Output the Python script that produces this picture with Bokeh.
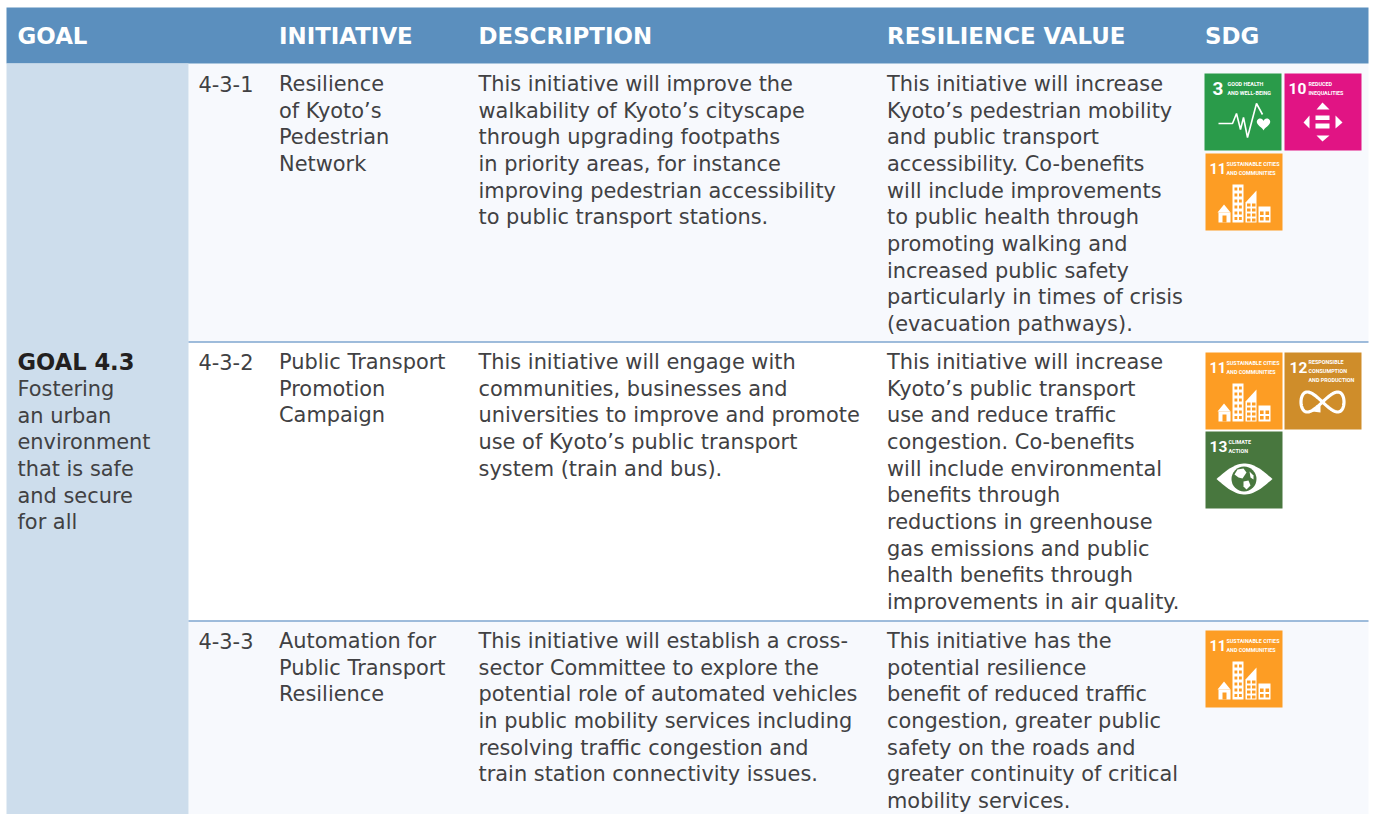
from bokeh.plotting import figure
from bokeh.models import Range1d, ColumnDataSource
from bokeh.core.properties import value
from bokeh.embed import file_html
from bokeh.resources import INLINE
import numpy as np

# ---------- content ----------
headers = ["GOAL", "INITIATIVE", "DESCRIPTION", "RESILIENCE VALUE", "SDG"]
goal_title = "GOAL 4.3"
goal_lines = ["Fostering", "an urban", "environment", "that is safe", "and secure", "for all"]
ids = ["4-3-1", "4-3-2", "4-3-3"]
initiatives = [
    ["Resilience", "of Kyoto\u2019s", "Pedestrian", "Network"],
    ["Public Transport", "Promotion", "Campaign"],
    ["Automation for", "Public Transport", "Resilience"],
]
descriptions = [
    ["This initiative will improve the", "walkability of Kyoto\u2019s cityscape", "through upgrading footpaths",
     "in priority areas, for instance", "improving pedestrian accessibility", "to public transport stations."],
    ["This initiative will engage with", "communities, businesses and", "universities to improve and promote",
     "use of Kyoto\u2019s public transport", "system (train and bus)."],
    ["This initiative will establish a cross-", "sector Committee to explore the", "potential role of automated vehicles",
     "in public mobility services including", "resolving traffic congestion and", "train station connectivity issues."],
]
resilience = [
    ["This initiative will increase", "Kyoto\u2019s pedestrian mobility", "and public transport", "accessibility. Co-benefits",
     "will include improvements", "to public health through", "promoting walking and", "increased public safety",
     "particularly in times of crisis", "(evacuation pathways)."],
    ["This initiative will increase", "Kyoto\u2019s public transport", "use and reduce traffic", "congestion. Co-benefits",
     "will include environmental", "benefits through", "reductions in greenhouse", "gas emissions and public",
     "health benefits through", "improvements in air quality."],
    ["This initiative has the", "potential resilience", "benefit of reduced traffic", "congestion, greater public",
     "safety on the roads and", "greater continuity of critical", "mobility services."],
]
sdg_numbers = {3: "3", 10: "10", 11: "11", 12: "12", 13: "13"}
sdg_labels = {
    3: ["GOOD HEALTH", "AND WELL-BEING"],
    10: ["REDUCED", "INEQUALITIES"],
    11: ["SUSTAINABLE CITIES", "AND COMMUNITIES"],
    12: ["RESPONSIBLE", "CONSUMPTION", "AND PRODUCTION"],
    13: ["CLIMATE", "ACTION"],
}

# ---------- layout / style ----------
FONT = "DejaVu Sans"
NARROW = "Roboto"
BODY_SIZE = "20.9px"
PITCH = 26.66
C_HEAD, C_GOAL, C_TINT, C_RULE, C_TEXT, C_DARK = "#5b8fbe", "#cdddec", "#f7f9fd", "#7fa6cf", "#414143", "#231f20"
SDG_COLORS = {3: "#2a9b4a", 10: "#e11484", 11: "#fd9d24", 12: "#cf8d2a", 13: "#48773e"}
TABLE_L, TABLE_R, GOAL_R = 6, 1368, 188
ROW_TOPS = [63, 341.5, 620.5, 814]
ROW_FILLS = [C_TINT, "#ffffff", C_TINT]
ROW_Y = [83.5, 361.5, 640.5]
X_GOAL, X_ID, X_INIT, X_DESC, X_RES = 17, 198, 278.5, 478, 886.5
HEAD_X = [17, 278.5, 478, 886.5, 1204.5]
TILE = 77
TILE_POS = [
    [(3, 1204, 73), (10, 1284, 73), (11, 1205, 153)],
    [(11, 1205, 352), (12, 1284, 352), (13, 1205, 431)],
    [(11, 1205, 630)],
]
NUM_X = {3: 8, 10: 4, 11: 4, 12: 5, 13: 4}
NUM_SIZE = {3: "19px", 10: "15.5px", 11: "14.5px", 12: "15.5px", 13: "15.5px"}
LAB_X = {3: 23, 10: 24, 11: 21, 12: 24, 13: 23}
LAB_Y = {3: 10, 10: 10, 11: 10, 12: 9.5, 13: 10}

p = figure(width=1373, height=814, x_range=Range1d(0, 1373), y_range=Range1d(814, 0),
           output_backend="svg", toolbar_location=None, min_border=0, outline_line_color=None,
           background_fill_color="#ffffff", border_fill_color="#ffffff")
p.axis.visible = False
p.grid.visible = False


def box(x0, x1, y0, y1, c):
    p.quad(left=[x0], right=[x1], top=[y0], bottom=[y1], fill_color=c, line_color=None)


def texts(x, y, lines, size=BODY_SIZE, color=C_TEXT, bold=False, font=FONT, pitch=PITCH):
    src = ColumnDataSource(dict(x=[x] * len(lines), y=[y + i * pitch for i in range(len(lines))], t=lines))
    p.text("x", "y", text="t", source=src, text_font=value(font), text_font_size=value(size),
           text_color=color, text_baseline="alphabetic", text_align="left",
           text_font_style="bold" if bold else "normal")


def poly(x0, y0, pts, c="#ffffff"):
    p.patch([x0 + a for a, _ in pts], [y0 + b for _, b in pts], fill_color=c, line_color=None)


def rects(x0, y0, items, c="#ffffff"):
    p.quad(left=[x0 + i[0] for i in items], right=[x0 + i[1] for i in items],
           top=[y0 + i[2] for i in items], bottom=[y0 + i[3] for i in items],
           fill_color=c, line_color=None)


def grid_cells(xs, ys, w, h):
    return [(a, a + w, b, b + h) for a in xs for b in ys]


def icon3(x, y):
    pts = [(14, 50), (28, 50), (32, 40), (36, 56), (39, 44), (43, 64), (52, 30), (58, 41)]
    p.line([x + a for a, _ in pts], [y + b for _, b in pts], line_color="#ffffff", line_width=1.6)
    t = np.linspace(0, 2 * np.pi, 50)
    hx = x + 59 + 0.42 * 16 * np.sin(t) ** 3
    hy = y + 50 - 0.42 * (13 * np.cos(t) - 5 * np.cos(2 * t) - 2 * np.cos(3 * t) - np.cos(4 * t))
    p.patch(hx, hy, fill_color="#ffffff", line_color=None)


def icon10(x, y):
    poly(x, y, [(38, 29), (32, 36), (45, 36)])
    poly(x, y, [(32, 62), (45, 62), (38, 68)])
    poly(x, y, [(19, 49), (25, 42), (25, 55)])
    poly(x, y, [(58, 49), (51, 42), (51, 55)])
    rects(x, y, [(31, 45, 42, 46.5), (31, 45, 50, 55)])


def icon11(x, y):
    o = SDG_COLORS[11]
    rects(x, y, [(27, 38, 31, 69)])
    rects(x, y, grid_cells([29, 33.5], [34, 40, 46, 52, 58, 63.5], 2.8, 3), o)
    poly(x, y, [(18.5, 51), (12, 59), (25, 59)])
    rects(x, y, [(13, 25, 59, 69)])
    rects(x, y, [(17, 21, 62, 69)], o)
    poly(x, y, [(40, 69), (40, 49), (51, 37), (51, 69)])
    rects(x, y, grid_cells([41.5, 46.5], [50, 55, 60, 65], 3.5, 3), o)
    rects(x, y, [(53, 65, 53, 69)])
    rects(x, y, grid_cells([54.5, 60], [58, 63.5], 3.6, 3.5), o)


def icon12(x, y):
    t = np.linspace(0, 2 * np.pi, 120)
    ix = x + 38 + 21.5 * np.cos(t)
    iy = y + 49.5 + 20 * np.sin(t) * np.cos(t)
    p.line(ix, iy, line_color="#ffffff", line_width=3.2)
    poly(x, y, [(28, 59), (36, 52), (36, 60)])


def icon13(x, y):
    g = SDG_COLORS[13]
    t = np.linspace(0, 1, 30)
    top = [(11 + 56 * a, 47.5 - 15.5 * np.sin(np.pi * a)) for a in t]
    bot = [(67 - 56 * a, 47.5 + 15.5 * np.sin(np.pi * a)) for a in t]
    poly(x, y, top + bot)
    p.circle([x + 38.5], [y + 47.5], radius=12.5, fill_color=g, line_color=None)
    poly(x, y, [(32, 38), (38, 37), (41, 41), (37, 47), (33, 46), (29, 43)])
    poly(x, y, [(38, 50), (43, 49), (45, 54), (41, 58), (38, 55)])
    poly(x, y, [(44, 40), (48, 44), (48, 48), (45, 46)])


ICONS = {3: icon3, 10: icon10, 11: icon11, 12: icon12, 13: icon13}


def tile(n, x, y):
    box(x, x + TILE, y, y + TILE, SDG_COLORS[n])
    texts(x + NUM_X[n], y + 14.5, [sdg_numbers[n]], size=NUM_SIZE[n], color="#ffffff", bold=True, font=NARROW)
    texts(x + LAB_X[n], y + LAB_Y[n], sdg_labels[n], size="5.4px", color="#ffffff", bold=True, font=NARROW, pitch=9)
    ICONS[n](x, y)


# ---------- backgrounds ----------
for i, f in enumerate(ROW_FILLS):
    box(GOAL_R, TABLE_R, ROW_TOPS[i], ROW_TOPS[i + 1], f)
box(TABLE_L, TABLE_R, 7, 63, C_HEAD)
box(TABLE_L, GOAL_R, 63, 814, C_GOAL)
for yy in ROW_TOPS[1:3]:
    p.line([GOAL_R, TABLE_R], [yy, yy], line_color=C_RULE, line_width=1.3)

# ---------- texts ----------
for hx, h in zip(HEAD_X, headers):
    texts(hx, 35, [h], size="22.9px", color="#ffffff", bold=True)

texts(X_GOAL, 361.5, [goal_title], size="22.6px", color=C_DARK, bold=True)
texts(X_GOAL, 388.5, goal_lines)

for r in range(3):
    b = ROW_Y[r]
    texts(X_ID, b, [ids[r]])
    texts(X_INIT, b, initiatives[r])
    texts(X_DESC, b, descriptions[r])
    texts(X_RES, b, resilience[r])
    for n, x, y in TILE_POS[r]:
        tile(n, x, y)

open("out.html", "w").write(file_html(p, INLINE))
